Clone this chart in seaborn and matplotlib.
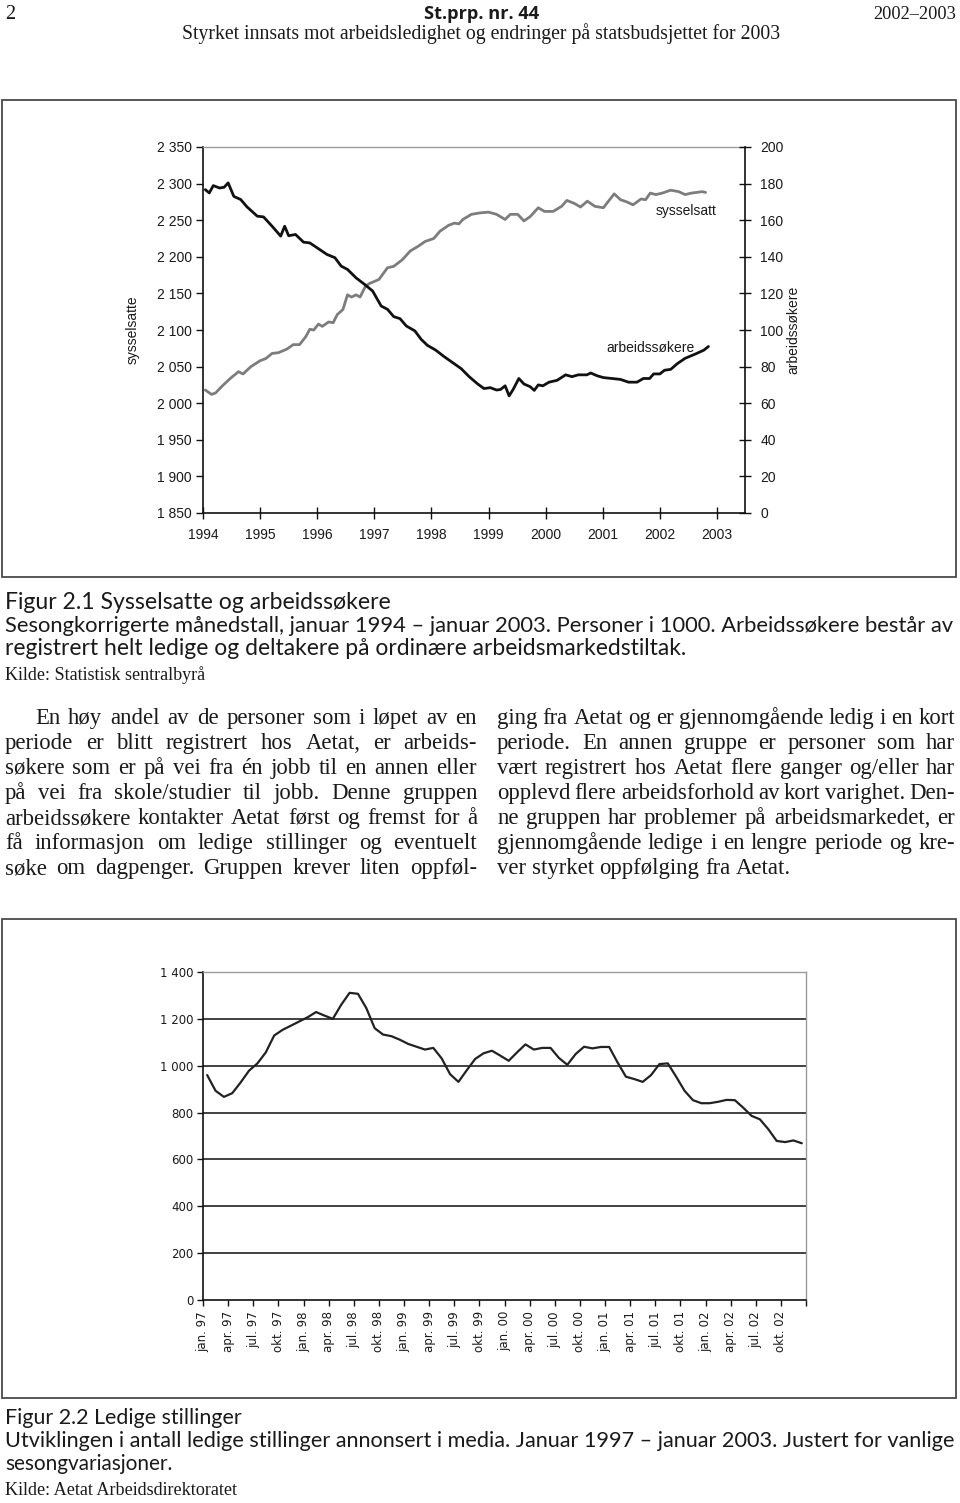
import numpy as np
import pandas as pd
import matplotlib
matplotlib.use("Agg")
import matplotlib.pyplot as plt
import seaborn as sns
from matplotlib.patches import Rectangle

# ---------------- data: figure 2.1 ----------------
sys_x = [1994.04, 1994.15, 1994.22, 1994.33, 1994.48, 1994.62, 1994.70, 1994.84, 1995.00, 1995.10,
         1995.21, 1995.32, 1995.47, 1995.58, 1995.69, 1995.80, 1995.87, 1995.94, 1996.02, 1996.09,
         1996.20, 1996.28, 1996.35, 1996.45, 1996.53, 1996.60, 1996.68, 1996.75, 1996.84, 1996.90,
         1997.08, 1997.23, 1997.34, 1997.49, 1997.63, 1997.78, 1997.89, 1998.04, 1998.15, 1998.30,
         1998.40, 1998.48, 1998.55, 1998.70, 1998.85, 1999.00, 1999.14, 1999.29, 1999.38, 1999.51,
         1999.62, 1999.73, 1999.87, 1999.98, 2000.13, 2000.28, 2000.37, 2000.50, 2000.61, 2000.73,
         2000.86, 2001.01, 2001.20, 2001.31, 2001.42, 2001.53, 2001.67, 2001.75, 2001.83, 2001.93,
         2002.04, 2002.19, 2002.33, 2002.44, 2002.55, 2002.74, 2002.80]
sys_y = [2018, 2012, 2014, 2023, 2034, 2043, 2040, 2050, 2058, 2061,
         2068, 2069, 2074, 2080, 2080, 2091, 2101, 2100, 2108, 2105,
         2111, 2110, 2121, 2128, 2148, 2145, 2148, 2145, 2159, 2163,
         2169, 2185, 2187, 2196, 2208, 2215, 2221, 2225, 2235, 2243,
         2246, 2245, 2251, 2258, 2260, 2261, 2258, 2251, 2258, 2258,
         2249, 2255, 2267, 2262, 2262, 2269, 2277, 2273, 2268, 2276,
         2269, 2267, 2286, 2278, 2275, 2271, 2279, 2278, 2287, 2285,
         2287, 2291, 2289, 2285, 2287, 2289, 2288]

arb_x = [1994.04, 1994.11, 1994.18, 1994.29, 1994.37, 1994.44, 1994.54, 1994.66, 1994.77, 1994.95,
         1995.06, 1995.21, 1995.36, 1995.43, 1995.50, 1995.62, 1995.76, 1995.87, 1995.98, 1996.17,
         1996.31, 1996.42, 1996.53, 1996.68, 1996.83, 1996.97, 1997.12, 1997.23, 1997.34, 1997.45,
         1997.56, 1997.71, 1997.82, 1997.93, 1998.07, 1998.22, 1998.37, 1998.52, 1998.66, 1998.81,
         1998.92, 1999.03, 1999.14, 1999.21, 1999.29, 1999.36, 1999.43, 1999.53, 1999.62, 1999.73,
         1999.80, 1999.87, 1999.95, 2000.06, 2000.20, 2000.35, 2000.46, 2000.57, 2000.72, 2000.79,
         2000.90, 2001.01, 2001.16, 2001.31, 2001.45, 2001.60, 2001.71, 2001.82, 2001.89, 2002.00,
         2002.08, 2002.19, 2002.30, 2002.44, 2002.63, 2002.77, 2002.85]
arb_y = [176.7, 174.9, 178.9, 177.6, 178.0, 180.4, 173.0, 171.3, 167.3, 162.2,
         161.8, 156.7, 151.3, 156.7, 151.5, 152.2, 148.0, 147.6, 145.3, 141.3,
         139.5, 134.9, 133.1, 128.5, 124.9, 121.3, 113.1, 111.3, 107.3, 106.2,
         102.2, 99.5, 94.9, 91.6, 89.1, 85.5, 82.2, 78.9, 74.5, 70.5,
         68.0, 68.5, 67.2, 67.5, 69.5, 64.0, 67.5, 73.5, 70.5, 69.0,
         67.0, 70.0, 69.5, 71.5, 72.5, 75.5, 74.5, 75.5, 75.5, 76.5,
         75.0, 74.0, 73.5, 73.0, 71.5, 71.5, 73.5, 73.5, 76.0, 76.0,
         78.0, 78.5, 81.5, 84.5, 87.0, 89.0, 91.0]

left_ticks = [1850, 1900, 1950, 2000, 2050, 2100, 2150, 2200, 2250, 2300, 2350]
left_labels = ["1 850", "1 900", "1 950", "2 000", "2 050", "2 100", "2 150", "2 200", "2 250", "2 300", "2 350"]
right_ticks = [0, 20, 40, 60, 80, 100, 120, 140, 160, 180, 200]
year_ticks = [1994, 1995, 1996, 1997, 1998, 1999, 2000, 2001, 2002, 2003]

# ---------------- data: figure 2.2 ----------------
vacancies = [960, 893, 867, 883, 929, 979, 1010, 1057, 1129, 1153,
             1171, 1189, 1207, 1229, 1214, 1200, 1260, 1311, 1307, 1246,
             1160, 1133, 1126, 1111, 1093, 1081, 1069, 1076, 1031, 964,
             931, 981, 1029, 1053, 1064, 1043, 1021, 1057, 1091, 1069,
             1076, 1076, 1033, 1004, 1050, 1081, 1074, 1080, 1080, 1014,
             953, 943, 931, 960, 1007, 1010, 953, 893, 853, 840,
             840, 846, 854, 853, 821, 786, 771, 729, 679, 674,
             681, 669]
vac_ticks = [0, 200, 400, 600, 800, 1000, 1200, 1400]
vac_tick_labels = ["0", "200", "400", "600", "800", "1 000", "1 200", "1 400"]
quarter_labels = ["jan. 97", "apr. 97", "jul. 97", "okt. 97", "jan. 98", "apr. 98", "jul. 98", "okt. 98",
                  "jan. 99", "apr. 99", "jul. 99", "okt. 99", "jan. 00", "apr. 00", "jul. 00", "okt. 00",
                  "jan. 01", "apr. 01", "jul. 01", "okt. 01", "jan. 02", "apr. 02", "jul. 02", "okt. 02"]

# ---------------- text ----------------
col1_lines = [
    "En høy andel av de personer som i løpet av en",
    "periode er blitt registrert hos Aetat, er arbeids-",
    "søkere som er på vei fra én jobb til en annen eller",
    "på vei fra skole/studier til jobb. Denne gruppen",
    "arbeidssøkere kontakter Aetat først og fremst for å",
    "få informasjon om ledige stillinger og eventuelt",
    "søke om dagpenger. Gruppen krever liten oppføl-",
]
col2_lines = [
    "ging fra Aetat og er gjennomgående ledig i en kort",
    "periode. En annen gruppe er personer som har",
    "vært registrert hos Aetat flere ganger og/eller har",
    "opplevd flere arbeidsforhold av kort varighet. Den-",
    "ne gruppen har problemer på arbeidsmarkedet, er",
    "gjennomgående ledige i en lengre periode og kre-",
    "ver styrket oppfølging fra Aetat.",
]

sns.set_theme(style="white")
plt.rcParams["font.family"] = ["Liberation Sans", "DejaVu Sans"]
plt.rcParams["axes.unicode_minus"] = False

W, H = 960, 1503
fig = plt.figure(figsize=(W / 100, H / 100), dpi=100)
fig.patch.set_facecolor("white")
renderer = fig.canvas.get_renderer()

INK = "#1a1a1a"
SERIF = "Liberation Serif"
CAPSANS = "Lato"


def fx(x):
    return x / W


def fy(y):
    return 1 - y / H


def fit_text(s, x0, x1, yb, family, weight="normal", color=INK):
    t = fig.text(fx(x0), fy(yb), s, fontsize=12, family=family, weight=weight,
                 va="baseline", ha="left", color=color)
    w = t.get_window_extent(renderer).width
    t.set_fontsize(12 * (x1 - x0) / w)
    return t


def measure(s, fs, family):
    t = fig.text(0, 0, s, fontsize=fs, family=family)
    w = t.get_window_extent(renderer).width
    t.remove()
    return w


# ---------------- header ----------------
fit_text("2", 5, 15, 19, "Liberation Serif")
fit_text("St.prp. nr. 44", 424, 540, 19, "Open Sans", weight="bold")
fit_text("2002–2003", 873, 955, 19, "Liberation Serif")
fit_text("Styrket innsats mot arbeidsledighet og endringer på statsbudsjettet for 2003", 182, 778, 39,
         "Liberation Serif")

# ---------------- boxes ----------------
for top, bot in [(100, 577), (919, 1398)]:
    fig.add_artist(Rectangle((fx(2), fy(bot)), (956 - 2) / W, (bot - top) / H,
                             transform=fig.transFigure, fill=False, ec="#4a4a4a", lw=1.3))

# ---------------- figure 2.1 ----------------
CH = "Liberation Sans"
TFS = 10
ax1 = fig.add_axes([fx(203), fy(513), (745 - 203) / W, (513 - 147) / H])
sns.lineplot(x=sys_x, y=sys_y, ax=ax1, color="#7d7d7d", lw=2.0, estimator=None, sort=False)
ax2 = ax1.twinx()
sns.lineplot(x=arb_x, y=arb_y, ax=ax2, color="#111111", lw=2.0, estimator=None, sort=False)

ax1.set_xlim(1994, 2003.49)
ax1.set_ylim(1850, 2350)
ax2.set_ylim(0, 200)
ax1.set_xticks(year_ticks, labels=[str(y) for y in year_ticks], fontsize=TFS, family=CH, color=INK)
ax1.set_yticks(left_ticks, labels=left_labels, fontsize=TFS, family=CH, color=INK)
ax2.set_yticks(right_ticks, labels=[str(v) for v in right_ticks], fontsize=TFS, family=CH, color=INK)
ax1.tick_params(axis="y", direction="out", length=5, width=1, color="#111", pad=3, left=True)
ax1.tick_params(axis="x", direction="inout", length=8, width=1, color="#111", pad=7, bottom=True)
ax2.tick_params(axis="y", direction="inout", length=8, width=1, color="#111", pad=7, right=True)
ax1.set_xlabel("")
ax1.set_ylabel("sysselsatte", fontsize=TFS, family=CH, color=INK)
ax1.yaxis.set_label_coords((140 - 203) / 542, 0.5)
ax2.set_ylabel("arbeidssøkere", fontsize=TFS, family=CH, color=INK)
ax2.yaxis.set_label_coords((786 - 203) / 542, 0.5)

for s in ["left", "bottom"]:
    ax1.spines[s].set_color("#111")
    ax1.spines[s].set_linewidth(1.2)
ax1.spines["top"].set_color("#9a9a9a")
ax1.spines["top"].set_linewidth(1.0)
ax1.spines["right"].set_visible(False)
for s in ["left", "top", "bottom"]:
    ax2.spines[s].set_visible(False)
ax2.spines["right"].set_color("#111")
ax2.spines["right"].set_linewidth(1.2)
ax1.grid(False)
ax2.grid(False)

ax1.text(2002.46, 2262.5, "sysselsatt", ha="center", va="center", fontsize=TFS, family=CH, color=INK)
ax1.text(2001.83, 2075.5, "arbeidssøkere", ha="center", va="center", fontsize=TFS, family=CH, color=INK)

# captions 2.1
fit_text("Figur 2.1 Sysselsatte og arbeidssøkere", 5, 388, 609, CAPSANS)
fit_text("Sesongkorrigerte månedstall, januar 1994 – januar 2003. Personer i 1000. Arbeidssøkere består av",
         5, 950, 632, CAPSANS)
fit_text("registrert helt ledige og deltakere på ordinære arbeidsmarkedstiltak.", 5, 683, 655, CAPSANS)
fit_text("Kilde: Statistisk sentralbyrå", 5, 205, 680, "Liberation Serif")

# ---------------- body text (justified) ----------------
space10 = measure("n n", 10, SERIF) - measure("nn", 10, SERIF)
cols = [(col1_lines, 5, 477, 30), (col2_lines, 497, 955, 0)]
fs_candidates = []
for lines, x0, x1, indent in cols:
    for k, line in enumerate(lines):
        if lines is col2_lines and k == len(lines) - 1:
            continue
        words = line.split(" ")
        tot = sum(measure(w, 10, SERIF) for w in words)
        L = x1 - x0 - (indent if k == 0 else 0)
        fs_candidates.append(10 * L / (tot + 0.8 * space10 * (len(words) - 1)))
body_fs = min(min(fs_candidates), 16.5)
space_fs = space10 * body_fs / 10

for lines, x0, x1, indent in cols:
    for k, line in enumerate(lines):
        yb = 724 + 25 * k
        words = line.split(" ")
        start = x0 + (indent if k == 0 else 0)
        texts = [fig.text(0, 0, w, fontsize=body_fs, family=SERIF,
                          va="baseline", ha="left", color=INK)
                 for w in words]
        widths = [t.get_window_extent(renderer).width for t in texts]
        if lines is col2_lines and k == len(lines) - 1:
            gap = space_fs
        else:
            gap = (x1 - start - sum(widths)) / max(len(words) - 1, 1)
        x = start
        for t, w in zip(texts, widths):
            t.set_position((fx(x), fy(yb)))
            x += w + gap

# ---------------- figure 2.2 ----------------
VF = "DejaVu Sans"
ax3 = fig.add_axes([fx(203), fy(1300), (806 - 203) / W, (1300 - 972) / H])
months = np.arange(len(vacancies))
sns.lineplot(x=months, y=vacancies, ax=ax3, color="#222222", lw=1.6, estimator=None, sort=False)
ax3.set_xlim(-0.5, len(vacancies) - 0.5)
ax3.set_ylim(0, 1400)
for v in vac_ticks[1:-1]:
    ax3.axhline(v, color="#333333", lw=1.3, zorder=0.5)
ax3.set_yticks(vac_ticks, labels=vac_tick_labels, fontsize=8.5, family=VF, color=INK)
qpos = np.arange(0, len(vacancies) + 1, 3) - 0.5
ax3.set_xticks(qpos, labels=quarter_labels + [""], fontsize=8.5, family=VF, color=INK, rotation=90)
ax3.tick_params(axis="y", direction="out", length=4, width=1, color="#111", pad=3, left=True)
ax3.tick_params(axis="x", direction="out", length=4, width=1, color="#111", pad=4, bottom=True)
ax3.set_xlabel("")
ax3.set_ylabel("")
ax3.grid(False)
for s in ["left", "bottom"]:
    ax3.spines[s].set_color("#111")
    ax3.spines[s].set_linewidth(1.2)
for s in ["top", "right"]:
    ax3.spines[s].set_color("#9a9a9a")
    ax3.spines[s].set_linewidth(1.0)

# captions 2.2
fit_text("Figur 2.2 Ledige stillinger", 5, 240, 1424, CAPSANS)
fit_text("Utviklingen i antall ledige stillinger annonsert i media. Januar 1997 – januar 2003. Justert for vanlige",
         5, 952, 1447, CAPSANS)
fit_text("sesongvariasjoner.", 5, 172, 1470, CAPSANS)
fit_text("Kilde: Aetat Arbeidsdirektoratet", 5, 238, 1495, "Liberation Serif")

fig.savefig("out.png", dpi=100, facecolor="white")
